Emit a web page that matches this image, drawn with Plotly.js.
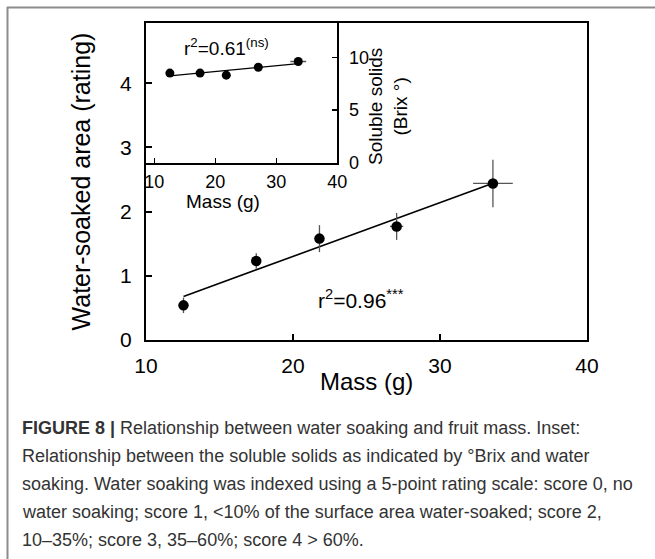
<!DOCTYPE html>
<html>
<head>
<meta charset="utf-8">
<script src="https://cdn.plot.ly/plotly-3.0.1.min.js"></script>
<style>
  html, body { margin: 0; padding: 0; background: #fff; }
  #chart { width: 655px; height: 559px; }
</style>
</head>
<body>
<div id="chart"></div>
<script>
// ---- data ----
const mass        = [12.55, 17.5, 21.8, 27.05, 33.6];
const massErr     = [0.3, 0.3, 0.3, 0.45, 1.35];
const rating      = [0.54, 1.23, 1.58, 1.77, 2.44];
const ratingErr   = [0.12, 0.12, 0.21, 0.21, 0.37];
const brix        = [8.5, 8.5, 8.3, 9.05, 9.6];
const brixErr     = [0.15, 0.15, 0.15, 0.2, 0.25];
const brixMassErr = [0.3, 0.3, 0.3, 0.4, 1.3];

const mainXTicks  = [10, 20, 30, 40];
const mainYTicks  = [0, 1, 2, 3, 4];
const insetXTicks = [10, 20, 30, 40];
const insetYTicks = [0, 5, 10];

const r2Main  = 'r<sup>2</sup>=0.96<sup>***</sup>';
const r2Inset = 'r<sup>2</sup>=0.61<sup>(ns)</sup>';

const captionLines = [
  '<b>FIGURE 8 |</b> Relationship between water soaking and fruit mass. Inset:',
  'Relationship between the soluble solids as indicated by \u00B0Brix and water',
  'soaking. Water soaking was indexed using a 5-point rating scale: score 0, no',
  'water soaking; score 1, &lt;10% of the surface area water-soaked; score 2,',
  '10\u201335%; score 3, 35\u201360%; score 4 &gt; 60%.'
];

// ---- helpers ----
function linfit(xs, ys) {
  const n = xs.length;
  const mx = xs.reduce((a, b) => a + b, 0) / n;
  const my = ys.reduce((a, b) => a + b, 0) / n;
  let sxy = 0, sxx = 0;
  for (let i = 0; i < n; i++) { sxy += (xs[i] - mx) * (ys[i] - my); sxx += (xs[i] - mx) ** 2; }
  const b = sxy / sxx, a = my - b * mx;
  const x0 = Math.min(...xs), x1 = Math.max(...xs);
  return { x: [x0, x1], y: [a + b * x0, a + b * x1] };
}

const W = 655, H = 559;
const px = v => v / W;
const py = v => (H - v) / H;
const FONT = 'Liberation Sans, Arial, sans-serif';

const fitMain = linfit(mass, rating);
const fitInset = linfit(mass, brix);

const errStyle = { type: 'data', visible: true, color: '#555', thickness: 1.3, width: 0 };

const traces = [
  { x: fitMain.x, y: fitMain.y, mode: 'lines', line: { color: '#000', width: 1.6 },
    xaxis: 'x', yaxis: 'y', hoverinfo: 'skip', showlegend: false },
  { x: mass, y: rating, mode: 'markers', marker: { color: '#000', size: 10.5 },
    error_x: Object.assign({ array: massErr }, errStyle),
    error_y: Object.assign({ array: ratingErr }, errStyle),
    xaxis: 'x', yaxis: 'y', showlegend: false },
  { x: fitInset.x, y: fitInset.y, mode: 'lines', line: { color: '#000', width: 1.2 },
    xaxis: 'x2', yaxis: 'y2', hoverinfo: 'skip', showlegend: false },
  { x: mass, y: brix, mode: 'markers', marker: { color: '#000', size: 9 },
    error_x: Object.assign({ array: brixMassErr }, errStyle),
    error_y: Object.assign({ array: brixErr }, errStyle),
    xaxis: 'x2', yaxis: 'y2', showlegend: false }
];

const axisCommon = {
  showgrid: false, zeroline: false, showline: true, linecolor: '#000',
  ticks: 'inside', tickcolor: '#000', tickmode: 'array', color: '#000'
};

const annotations = [
  { xref: 'paper', yref: 'paper', x: px(366), y: py(381), text: 'Mass (g)',
    showarrow: false, xanchor: 'center', yanchor: 'middle', font: { family: FONT, size: 24, color: '#000' } },
  { xref: 'paper', yref: 'paper', x: px(222.5), y: py(201), text: 'Mass (g)',
    showarrow: false, xanchor: 'center', yanchor: 'middle', font: { family: FONT, size: 19, color: '#000' } },
  { xref: 'paper', yref: 'paper', x: px(388), y: py(107), text: 'Soluble solids<br>(Brix \u00B0)',
    textangle: -90, showarrow: false, xanchor: 'center', yanchor: 'middle', align: 'center',
    font: { family: FONT, size: 19, color: '#000' } },
  { xref: 'paper', yref: 'paper', x: px(316), y: py(299), text: r2Main,
    showarrow: false, xanchor: 'left', yanchor: 'middle', font: { family: FONT, size: 21, color: '#000' } },
  { xref: 'paper', yref: 'paper', x: px(182), y: py(47), text: r2Inset,
    showarrow: false, xanchor: 'left', yanchor: 'middle', font: { family: FONT, size: 19, color: '#000' } }
];

const capBase = 428, capStep = 28;
captionLines.forEach((t, i) => {
  annotations.push({ xref: 'paper', yref: 'paper', x: px(20), y: py(capBase + i * capStep), text: t,
    showarrow: false, xanchor: 'left', yanchor: 'middle', align: 'left',
    font: { family: FONT, size: 18, color: '#333' } });
});

const layout = {
  width: W, height: H,
  margin: { l: 0, r: 0, t: 0, b: 0 },
  paper_bgcolor: '#fff', plot_bgcolor: 'rgba(0,0,0,0)',
  font: { family: FONT, color: '#000' },
  showlegend: false,
  xaxis: Object.assign({}, axisCommon, {
    domain: [px(146), px(587)], range: [10, 40], tickvals: mainXTicks,
    ticklen: 6, tickwidth: 2, linewidth: 2, mirror: true, anchor: 'y',
    tickfont: { family: FONT, size: 21 }, ticklabelstandoff: 6
  }),
  yaxis: Object.assign({}, axisCommon, {
    domain: [py(340), py(23)], range: [0, 4.94], tickvals: mainYTicks,
    ticklen: 6, tickwidth: 2, linewidth: 2, mirror: true, anchor: 'x',
    tickfont: { family: FONT, size: 21 }, ticklabelstandoff: 8,
    title: { text: 'Water-soaked area (rating)', font: { family: FONT, size: 25 }, standoff: 22 }
  }),
  xaxis2: Object.assign({}, axisCommon, {
    domain: [px(146), px(337.3)], range: [8.64, 40], tickvals: insetXTicks,
    ticklen: 5, tickwidth: 1.5, linewidth: 2, mirror: false, anchor: 'y2',
    tickfont: { family: FONT, size: 18 }, ticklabelstandoff: 2
  }),
  yaxis2: Object.assign({}, axisCommon, {
    domain: [py(162.7), py(23)], range: [0, 13.25], tickvals: insetYTicks,
    ticklen: 5, tickwidth: 1.5, linewidth: 2, mirror: false, anchor: 'x2', side: 'right',
    tickfont: { family: FONT, size: 18 }, ticklabelstandoff: 6
  }),
  annotations: annotations,
  shapes: [
    { type: 'line', xref: 'paper', yref: 'paper', x0: px(7), x1: 1, y0: py(7.5), y1: py(7.5),
      line: { color: '#8c8c8c', width: 2 } },
    { type: 'line', xref: 'paper', yref: 'paper', x0: px(7.5), x1: px(7.5), y0: 0, y1: py(7),
      line: { color: '#8c8c8c', width: 2 } }
  ]
};

Plotly.newPlot('chart', traces, layout, { displayModeBar: false, staticPlot: true });
</script>
</body>
</html>
